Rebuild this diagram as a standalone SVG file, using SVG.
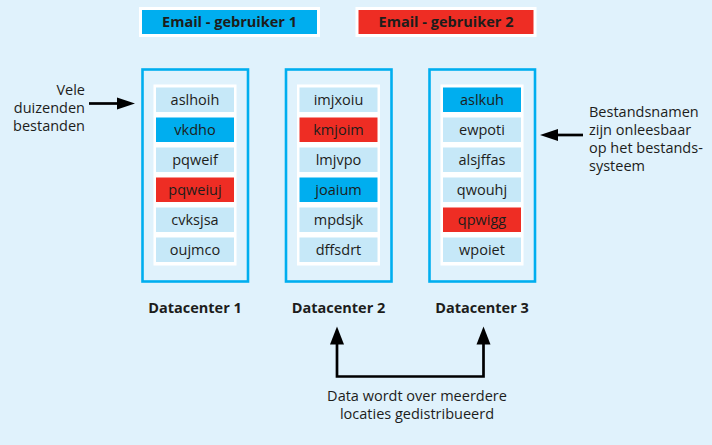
<svg xmlns="http://www.w3.org/2000/svg" width="712" height="445" viewBox="0 0 712 445">
<defs>
<style>
text{font-family:"Open Sans","Noto Sans","Liberation Sans",sans-serif;fill:#1d1d1b;font-size:14.5px}
.b{font-weight:bold}
.c{text-anchor:middle}
.r{text-anchor:end}
.dc{fill:none;stroke:#00aeef;stroke-width:2.6}
.panel{fill:#ffffff}
.it{fill:#c6e8f8}
.blue{fill:#00aeef}
.red{fill:#ee2d24}
.hdr{stroke:#ffffff;stroke-width:3}
.ln{fill:none;stroke:#000;stroke-width:2.7}
</style>
</defs>
<rect width="712" height="445" fill="#e0f2fc"/>

<g id="email1">
<rect class="blue hdr" x="140.5" y="8.5" width="178" height="27"/>
<text class="b c" x="229.5" y="27">Email - gebruiker 1</text>
</g>
<g id="email2">
<rect class="red hdr" x="357" y="8.5" width="178" height="27"/>
<text class="b c" x="446" y="27">Email - gebruiker 2</text>
</g>

<g id="dc1">
<rect class="dc" x="142.5" y="69.5" width="105.5" height="212"/>
<rect class="panel" x="153.5" y="84.5" width="83" height="181"/>
<rect class="it" x="156" y="87.5" width="78" height="24.5"/>
<rect class="blue" x="156" y="117.5" width="78" height="24.5"/>
<rect class="it" x="156" y="147.5" width="78" height="24.5"/>
<rect class="red" x="156" y="177.5" width="78" height="24.5"/>
<rect class="it" x="156" y="207.5" width="78" height="24.5"/>
<rect class="it" x="156" y="237.5" width="78" height="24.5"/>
<text class="c" x="195" y="105">aslhoih</text>
<text class="c" x="195" y="135">vkdho</text>
<text class="c" x="195" y="165">pqweif</text>
<text class="c" x="195" y="195">pqweiuj</text>
<text class="c" x="195" y="225">cvksjsa</text>
<text class="c" x="195" y="255">oujmco</text>
<text class="b c" x="195" y="313">Datacenter 1</text>
</g>

<g id="dc2">
<rect class="dc" x="286" y="69.5" width="105.5" height="212"/>
<rect class="panel" x="297" y="84.5" width="83" height="181"/>
<rect class="it" x="299.5" y="87.5" width="78" height="24.5"/>
<rect class="red" x="299.5" y="117.5" width="78" height="24.5"/>
<rect class="it" x="299.5" y="147.5" width="78" height="24.5"/>
<rect class="blue" x="299.5" y="177.5" width="78" height="24.5"/>
<rect class="it" x="299.5" y="207.5" width="78" height="24.5"/>
<rect class="it" x="299.5" y="237.5" width="78" height="24.5"/>
<text class="c" x="338.5" y="105">imjxoiu</text>
<text class="c" x="338.5" y="135">kmjoim</text>
<text class="c" x="338.5" y="165">lmjvpo</text>
<text class="c" x="338.5" y="195">joaium</text>
<text class="c" x="338.5" y="225">mpdsjk</text>
<text class="c" x="338.5" y="255">dffsdrt</text>
<text class="b c" x="338.5" y="313">Datacenter 2</text>
</g>

<g id="dc3">
<rect class="dc" x="429.5" y="69.5" width="105.5" height="212"/>
<rect class="panel" x="440.5" y="84.5" width="83" height="181"/>
<rect class="blue" x="443" y="87.5" width="78" height="24.5"/>
<rect class="it" x="443" y="117.5" width="78" height="24.5"/>
<rect class="it" x="443" y="147.5" width="78" height="24.5"/>
<rect class="it" x="443" y="177.5" width="78" height="24.5"/>
<rect class="red" x="443" y="207.5" width="78" height="24.5"/>
<rect class="it" x="443" y="237.5" width="78" height="24.5"/>
<text class="c" x="482" y="105">aslkuh</text>
<text class="c" x="482" y="135">ewpoti</text>
<text class="c" x="482" y="165">alsjffas</text>
<text class="c" x="482" y="195">qwouhj</text>
<text class="c" x="482" y="225">qpwigg</text>
<text class="c" x="482" y="255">wpoiet</text>
<text class="b c" x="482" y="313">Datacenter 3</text>
</g>

<g id="label-left">
<text class="r" x="85" y="95">Vele</text>
<text class="r" x="85" y="113">duizenden</text>
<text class="r" x="85" y="131">bestanden</text>
</g>
<g id="label-right">
<text x="589" y="117">Bestandsnamen</text>
<text x="589" y="135">zijn onleesbaar</text>
<text x="589" y="153">op het bestands-</text>
<text x="589" y="171">systeem</text>
</g>
<g id="label-bottom">
<text class="c" x="417" y="401">Data wordt over meerdere</text>
<text class="c" x="417" y="419">locaties gedistribueerd</text>
</g>

<g id="connectors">
<path class="ln" d="M89,103.5 H118"/>
<path d="M135,103.5 L117,97.5 L117,109.5 Z" fill="#000"/>
<path class="ln" d="M583,135 H557"/>
<path d="M540,135 L558,129 L558,141 Z" fill="#000"/>
<path class="ln" d="M337,343 V376.5 H483.5 V343"/>
<path d="M337,326.5 L330,344.5 L344,344.5 Z" fill="#000"/>
<path d="M483.5,326.5 L476.5,344.5 L490.5,344.5 Z" fill="#000"/>
</g>
</svg>
